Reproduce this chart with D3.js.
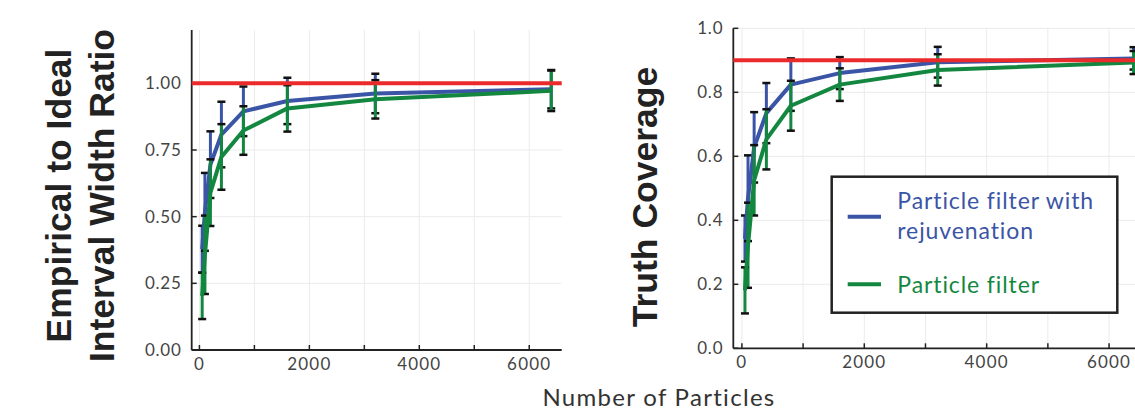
<!DOCTYPE html>
<html>
<head>
<meta charset="utf-8">
<script src="https://cdn.jsdelivr.net/npm/d3@7"></script>
<style>
  body { margin: 0; background: #fff; }
  text { font-family: Lato, "Open Sans", sans-serif; }
</style>
</head>
<body>
<svg id="chart" width="1135" height="412"></svg>
<script>
// values
var particles = [50, 100, 200, 400, 800, 1600, 3200, 6400];

var ratioRejuv    = [0.378, 0.518, 0.695, 0.808, 0.895, 0.934, 0.962, 0.978];
var ratioRejuvErr = [0.088, 0.146, 0.125, 0.123, 0.093, 0.087, 0.074, 0.072];
var ratioPF       = [0.203, 0.357, 0.590, 0.724, 0.823, 0.906, 0.940, 0.972];
var ratioPFErr    = [0.087, 0.147, 0.125, 0.123, 0.091, 0.087, 0.072, 0.076];

var coverRejuv    = [0.343, 0.469, 0.628, 0.735, 0.824, 0.860, 0.894, 0.906];
var coverRejuvErr = [0.072, 0.134, 0.110, 0.094, 0.082, 0.050, 0.048, 0.035];
var coverPF       = [0.181, 0.322, 0.525, 0.653, 0.758, 0.824, 0.870, 0.893];
var coverPFErr    = [0.072, 0.133, 0.110, 0.094, 0.078, 0.051, 0.049, 0.036];

var idealRatio = 1.0;
var nominalCoverage = 0.9;

var xTicks = [0, 2000, 4000, 6000];
var xMinor = [0, 1000, 2000, 3000, 4000, 5000, 6000];
var ratioTicks = [0, 0.25, 0.5, 0.75, 1.0];
var coverTicks = [0, 0.2, 0.4, 0.6, 0.8, 1.0];

var seriesNames = ["Particle filter with rejuvenation", "Particle filter"];

var blue = "#3b55a6", green = "#13873f", red = "#ea2a2b";

var svg = d3.select("#chart");

function zip(xs, ys, es) {
  return xs.map((x, i) => ({x: x, y: ys[i], e: es[i]}));
}

function drawPanel(p) {
  var xScale = d3.scaleLinear().domain([-140.5, 6590.5]).range([p.left, p.right]);
  var yScale = d3.scaleLinear().domain([0, p.yMax]).range([p.bottom, p.top]);
  var g = svg.append("g");

  // grid
  g.selectAll(".gx").data(xMinor).enter().append("line")
    .attr("x1", d => xScale(d)).attr("x2", d => xScale(d))
    .attr("y1", p.top).attr("y2", p.bottom)
    .attr("stroke", "#ebebeb").attr("stroke-width", 1);
  g.selectAll(".gy").data(p.yTicks).enter().append("line")
    .attr("x1", p.left).attr("x2", p.right)
    .attr("y1", d => yScale(d)).attr("y2", d => yScale(d))
    .attr("stroke", "#ebebeb").attr("stroke-width", 1);

  // axes
  g.append("line").attr("x1", p.left).attr("x2", p.left)
    .attr("y1", p.top).attr("y2", p.bottom).attr("stroke", "#222").attr("stroke-width", 1.8);
  g.append("line").attr("x1", p.left).attr("x2", p.right)
    .attr("y1", p.bottom).attr("y2", p.bottom).attr("stroke", "#222").attr("stroke-width", 1.8);

  g.selectAll(".tx").data(xMinor).enter().append("line")
    .attr("x1", d => xScale(d)).attr("x2", d => xScale(d))
    .attr("y1", p.bottom).attr("y2", p.bottom - 5)
    .attr("stroke", "#222").attr("stroke-width", 1.5);
  g.selectAll(".ty").data(p.yTicks).enter().append("line")
    .attr("x1", p.left).attr("x2", p.left + 5)
    .attr("y1", d => yScale(d)).attr("y2", d => yScale(d))
    .attr("stroke", "#222").attr("stroke-width", 1.5);

  g.selectAll(".lx").data(xTicks).enter().append("text")
    .attr("x", d => xScale(d)).attr("y", p.bottom + 20)
    .attr("text-anchor", "middle").attr("font-size", 17).attr("fill", "#444")
    .attr("letter-spacing", 1.2)
    .text(d => d);
  g.selectAll(".ly").data(p.yTicks).enter().append("text")
    .attr("x", p.left - 10).attr("y", d => yScale(d)).attr("dy", "0.35em")
    .attr("text-anchor", "end").attr("font-size", 17).attr("fill", "#444")
    .attr("letter-spacing", 0.8)
    .text(p.yFormat);

  var line = d3.line().x(d => xScale(d.x)).y(d => yScale(d.y));

  p.series.forEach(s => {
    var pts = zip(particles, s.values, s.errors);
    // error bars first, then the series line
    g.selectAll(null).data(pts).enter().append("line")
      .attr("x1", d => xScale(d.x)).attr("x2", d => xScale(d.x))
      .attr("y1", d => yScale(d.y - d.e)).attr("y2", d => yScale(d.y + d.e))
      .attr("stroke", s.color).attr("stroke-width", 3);
    [-1, 1].forEach(sign => {
      g.selectAll(null).data(pts).enter().append("line")
        .attr("x1", d => xScale(d.x) - 4).attr("x2", d => xScale(d.x) + 4)
        .attr("y1", d => yScale(d.y + sign * d.e)).attr("y2", d => yScale(d.y + sign * d.e))
        .attr("stroke", "#111").attr("stroke-width", 2.5);
    });
    g.append("path").datum(pts)
      .attr("fill", "none").attr("stroke", s.color).attr("stroke-width", 4)
      .attr("stroke-linejoin", "round")
      .attr("d", line);
  });

  g.append("line")
    .attr("x1", p.left).attr("x2", p.right)
    .attr("y1", yScale(p.ref)).attr("y2", yScale(p.ref))
    .attr("stroke", red).attr("stroke-width", 4);

  return {x: xScale, y: yScale};
}

drawPanel({
  left: 191.7, right: 561.7, top: 30, bottom: 350, yMax: 1.2,
  yTicks: ratioTicks, yFormat: d3.format(".2f"), ref: idealRatio,
  series: [
    {values: ratioRejuv, errors: ratioRejuvErr, color: blue},
    {values: ratioPF, errors: ratioPFErr, color: green}
  ]
});

drawPanel({
  left: 733.3, right: 1145.2, top: 28.3, bottom: 348.3, yMax: 1.0,
  yTicks: coverTicks, yFormat: d3.format(".1f"), ref: nominalCoverage,
  series: [
    {values: coverRejuv, errors: coverRejuvErr, color: blue},
    {values: coverPF, errors: coverPFErr, color: green}
  ]
});

// axis titles
var titleFont = "'Liberation Sans', Arial, sans-serif";
svg.append("text")
  .attr("transform", "translate(70.7,195.5) rotate(-90)")
  .attr("text-anchor", "middle").attr("font-size", 35.5).attr("font-weight", "bold")
  .style("font-family", titleFont).attr("fill", "#222")
  .text("Empirical to Ideal");
svg.append("text")
  .attr("transform", "translate(114,195.5) rotate(-90)")
  .attr("text-anchor", "middle").attr("font-size", 35.5).attr("font-weight", "bold")
  .style("font-family", titleFont).attr("fill", "#222")
  .text("Interval Width Ratio");
svg.append("text")
  .attr("transform", "translate(657,197) rotate(-90)")
  .attr("text-anchor", "middle").attr("font-size", 35.5).attr("font-weight", "bold")
  .style("font-family", titleFont).attr("fill", "#222")
  .text("Truth Coverage");

svg.append("text")
  .attr("x", 659).attr("y", 406)
  .attr("text-anchor", "middle").attr("font-size", 24).attr("fill", "#333")
  .attr("letter-spacing", 1.3)
  .text("Number of Particles");

// legend
var lg = svg.append("g");
lg.append("rect")
  .attr("x", 831.7).attr("y", 176.7).attr("width", 285.6).attr("height", 136)
  .attr("fill", "#fff").attr("stroke", "#222").attr("stroke-width", 2.5);
var legendRows = [
  {name: seriesNames[0], color: blue, y: 216.7, lines: ["Particle filter with", "rejuvenation"]},
  {name: seriesNames[1], color: green, y: 284.3, lines: ["Particle filter"]}
];
legendRows.forEach(r => {
  lg.append("line").attr("x1", 847.7).attr("x2", 881)
    .attr("y1", r.y).attr("y2", r.y)
    .attr("stroke", r.color).attr("stroke-width", 4);
  var t = lg.append("text").attr("x", 897.3).attr("font-size", 23).attr("fill", r.color)
    .attr("letter-spacing", 0.9);
  var y0 = r.lines.length > 1 ? r.y - 7.4 : r.y + 8.4;
  r.lines.forEach((l, i) => {
    t.append("tspan").attr("x", 897.3).attr("y", y0 + i * 29.7).text(l);
  });
});
</script>
</body>
</html>
